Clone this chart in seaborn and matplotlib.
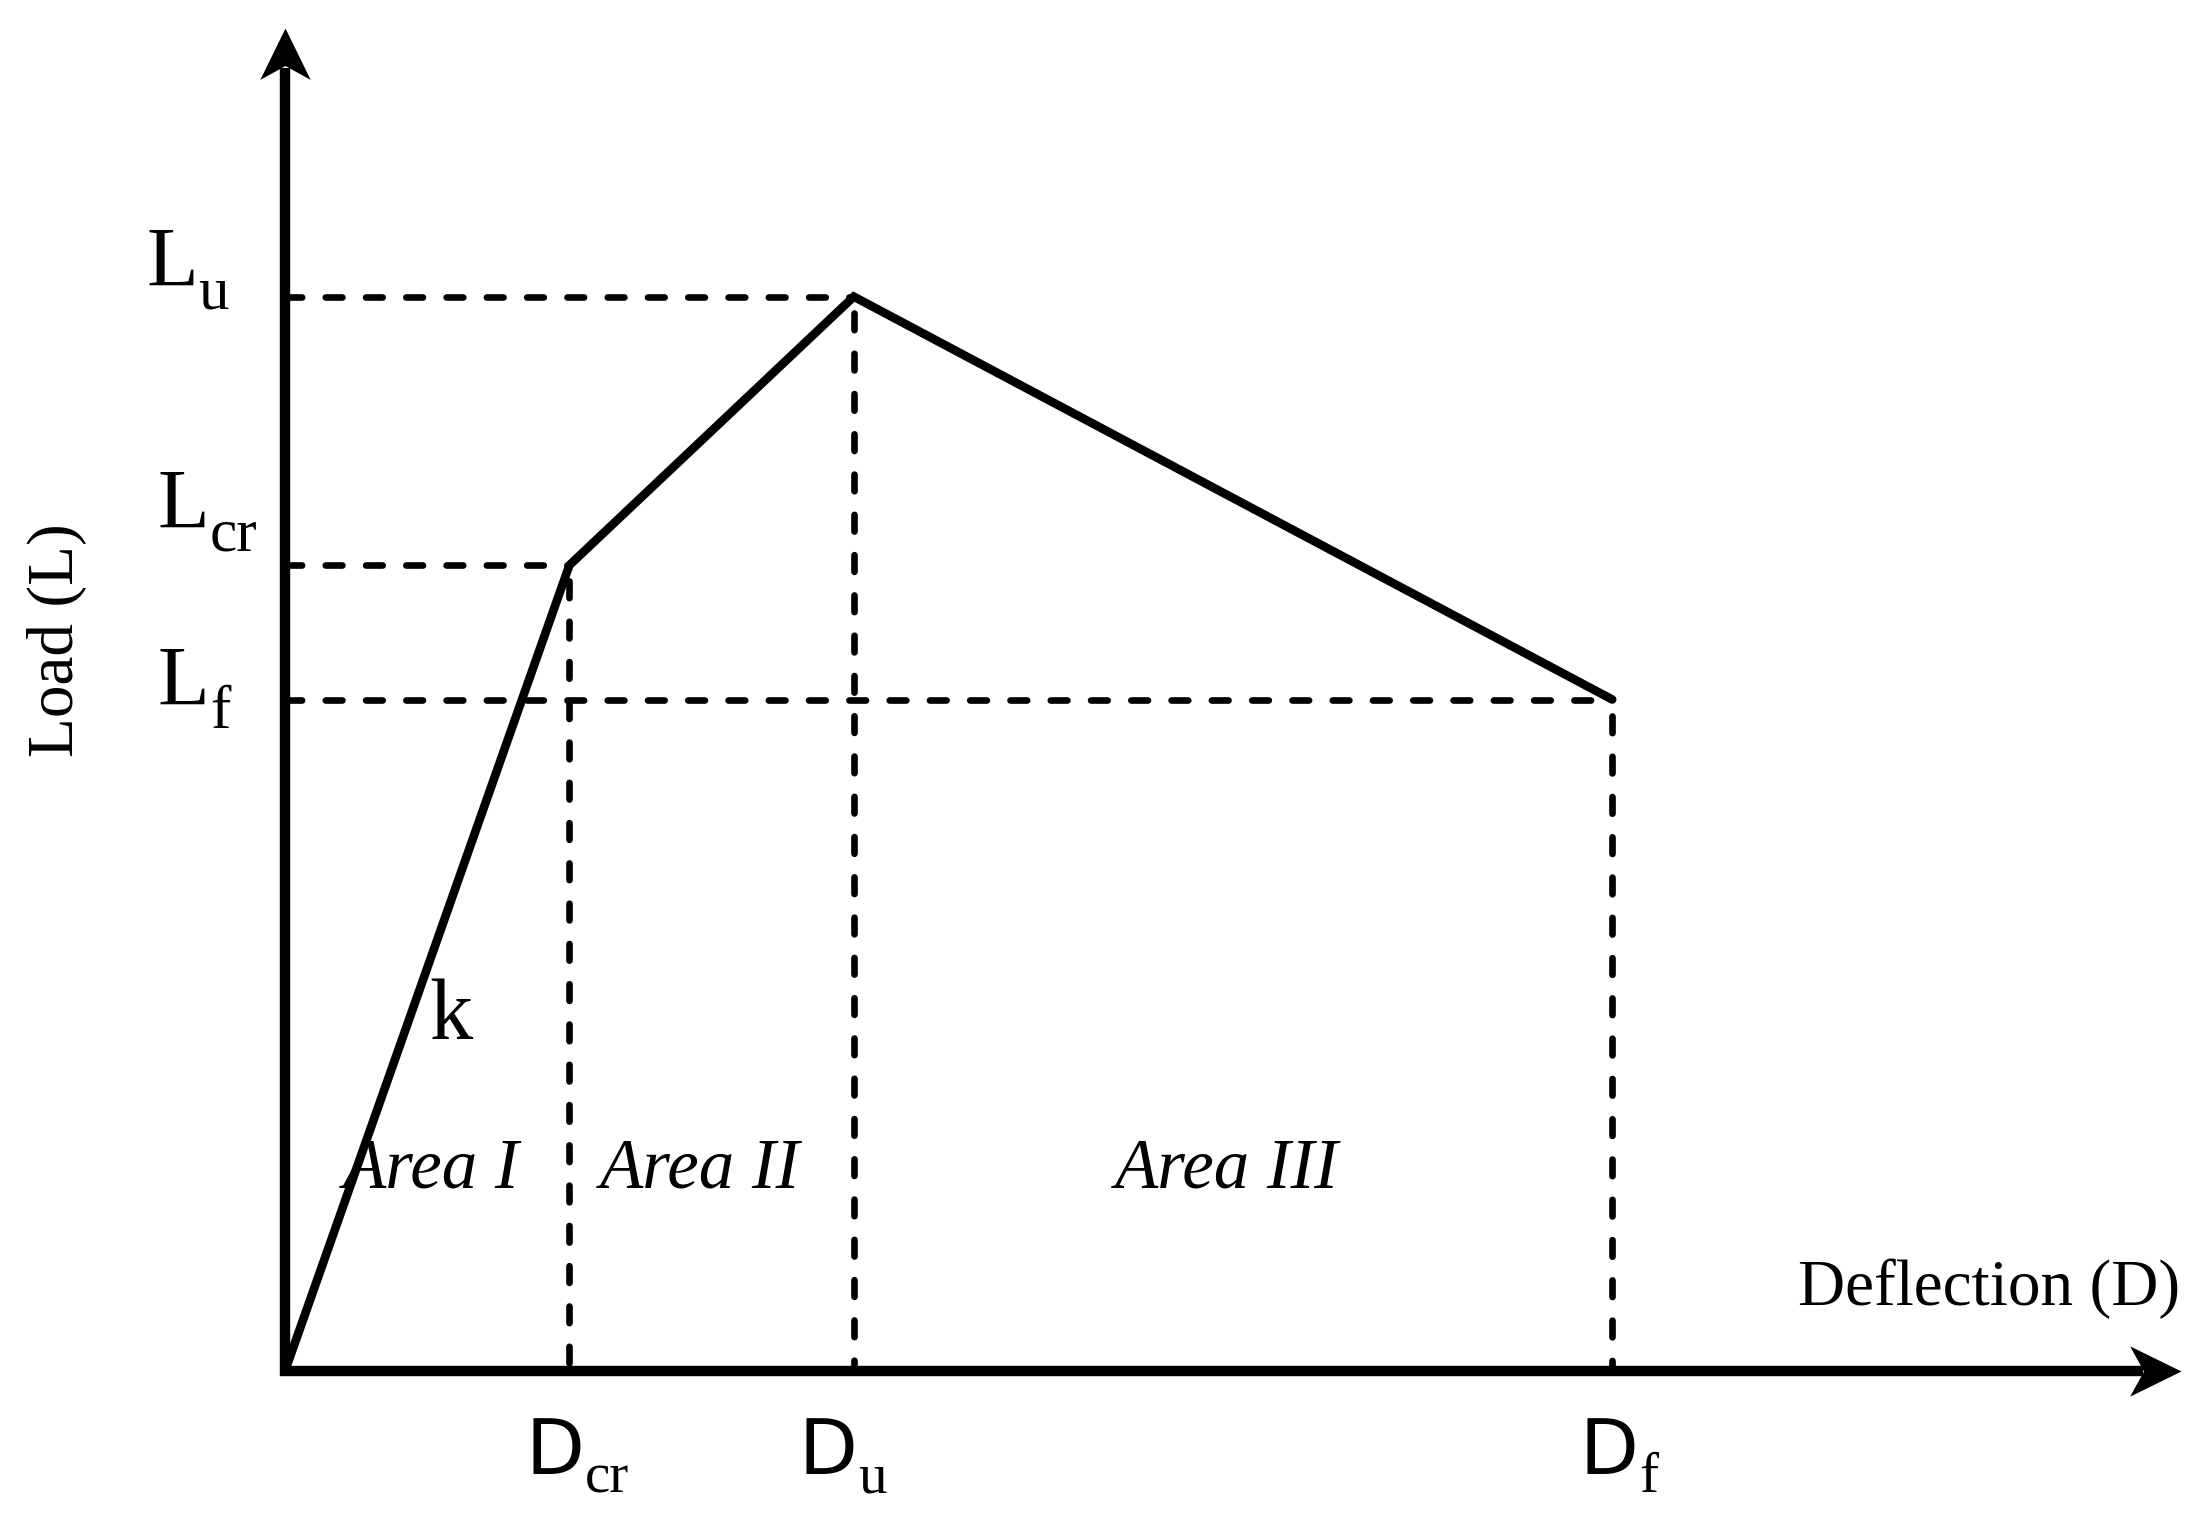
import matplotlib
matplotlib.use("Agg")
import matplotlib.pyplot as plt
import seaborn as sns
import pandas as pd
from matplotlib.path import Path

# ---- data ----
point_names = ["origin", "cr", "u", "f"]
deflection = [0, 15, 30, 70]
load = [0, 60, 80, 50]
d_main = "D"
l_main = "L"
subscripts = ["cr", "u", "f"]
area_names = ["Area I", "Area II", "Area III"]
x_title = "Deflection (D)"
y_title = "Load (L)"
slope_label = "k"

sns.set_theme(style="white")
plt.rcParams["font.family"] = ["Liberation Serif", "DejaVu Serif"]
plt.rcParams["text.color"] = "black"
plt.rcParams["lines.scale_dashes"] = False

W, H = 2211, 1532
fig = plt.figure(figsize=(W / 100, H / 100), dpi=100)
ox, oy = 285, 1371
tipx, tipy = 2181, 28
ax = fig.add_axes([ox / W, (H - oy) / H, (tipx - ox) / W, (oy - tipy) / H])
ax.set_xlim(0, 100)
ax.set_ylim(0, 100)
ax.axis("off")

df = pd.DataFrame({"x": deflection, "y": load})

# dashed guide lines
dash = (12, 17)
for d, l in zip(deflection[1:], load[1:]):
    ax.plot([0, d], [l, l], color="black", lw=4.8, dashes=dash,
            dash_capstyle="round", clip_on=False, zorder=2)
    ax.plot([d, d], [l - 1.2, 0], color="black", lw=4.8, dashes=dash,
            dash_capstyle="round", clip_on=False, zorder=2)

# main curve
sns.lineplot(data=df, x="x", y="y", sort=False, estimator=None, ax=ax,
             color="black", lw=6.2, zorder=3)
ax.lines[-1].set_solid_joinstyle("miter")
ax.lines[-1].set_clip_on(False)

# axes with notched arrow heads
ax.plot([-0.25, 98], [0, 0], color="black", lw=7.5, solid_capstyle="butt",
        clip_on=False, zorder=4)
ax.plot([0, 0], [-0.35, 97], color="black", lw=7.5, solid_capstyle="butt",
        clip_on=False, zorder=4)
codes = [Path.MOVETO, Path.LINETO, Path.LINETO, Path.LINETO, Path.CLOSEPOLY]
head_right = Path([(0, 0), (-1, 0.49), (-0.73, 0), (-1, -0.49), (0, 0)], codes)
head_up = Path([(0, 0), (0.49, -1), (0, -0.73), (-0.49, -1), (0, 0)], codes)
ax.plot([100], [0], marker=head_right, ms=74, mew=0, color="black",
        clip_on=False, zorder=5)
ax.plot([0], [100], marker=head_up, ms=74, mew=0, color="black",
        clip_on=False, zorder=5)


def label(x, y, main, sub, size, family, drop, sub_size):
    t = ax.text(x, y, main, fontsize=size, family=family, ha="left",
                va="baseline", color="black")
    ax.annotate(sub, xy=(1, 0), xycoords=t, xytext=(0, -drop),
                textcoords="offset points", fontsize=sub_size,
                family="Liberation Serif", ha="left", va="baseline",
                color="black")


# deflection labels
d_x = [12.7, 27.1, 68.3]
for x, s in zip(d_x, subscripts):
    label(x, -7.7, d_main, s, 55, "DejaVu Sans", 1.5, 41)

# load labels
l_pos = {"cr": (-6.7, 62.8), "u": (-7.3, 80.8), "f": (-6.7, 49.6)}
for name in subscripts:
    x, y = l_pos[name]
    label(x, y, l_main, name, 61, "Liberation Serif", 3.5, 44)

# area labels
area_x = [7.7, 21.9, 49.7]
for x, name in zip(area_x, area_names):
    ax.text(x, 13.7, name, fontsize=51, style="italic", ha="center",
            va="baseline", color="black")

ax.text(7.6, 24.7, slope_label, fontsize=62, ha="left", va="baseline")
ax.text(79.8, 4.9, x_title, fontsize=47, ha="left", va="baseline")
ax.text(-12.0, 54.4, y_title, fontsize=47, rotation=90, ha="center", va="center")

fig.savefig("out.png", dpi=100, facecolor="white")
